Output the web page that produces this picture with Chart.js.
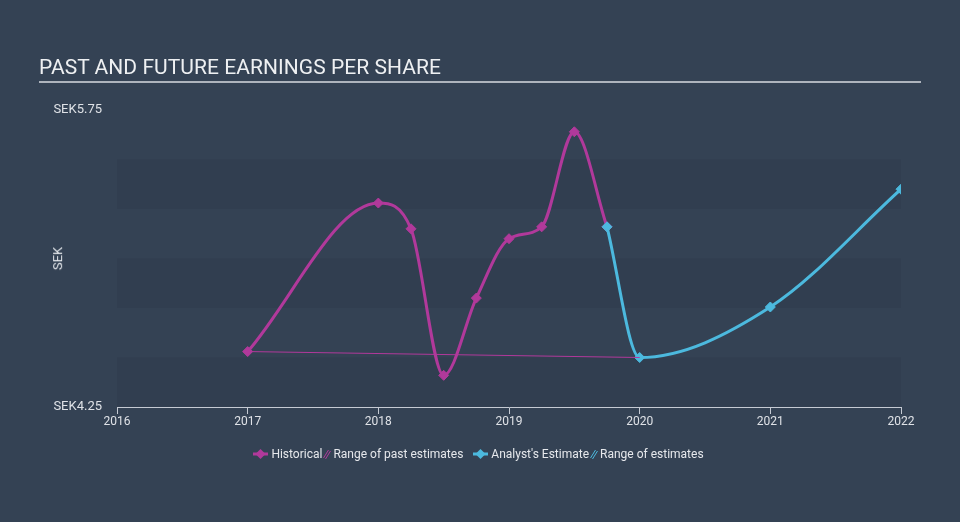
<!DOCTYPE html>
<html>
<head>
<meta charset="utf-8">
<script src="https://cdn.jsdelivr.net/npm/chart.js@4/dist/chart.umd.min.js"></script>
<style>
  body { margin: 0; background: #344254; font-family: Roboto, sans-serif; }
  #wrap { position: relative; width: 960px; height: 522px; overflow: hidden; }
  #chart { position: absolute; left: 0; top: 0; }
  .title { position: absolute; left: 39px; top: 55px; font-size: 21px; color: #eef0f2; letter-spacing: 0.05px; }
  .rule { position: absolute; left: 39px; top: 81px; width: 882px; height: 2px; background: #aeb4bd; }
  .ytitle { position: absolute; left: 46px; top: 251px; font-size: 13px; color: #e4e7eb; transform: rotate(-90deg); }
  .legend { position: absolute; left: 0; width: 956px; top: 446px; text-align: center; font-size: 12px; color: #e6e8ec; }
  .legend span { vertical-align: middle; margin-left: 2px; }
  .legend svg { vertical-align: middle; }
  .legend svg.h { margin-left: 1px; }
</style>
</head>
<body>
<div id="wrap">
  <canvas id="chart" width="960" height="522"></canvas>
  <div class="title">PAST AND FUTURE EARNINGS PER SHARE</div>
  <div class="rule"></div>
  <div class="ytitle">SEK</div>
  <div class="legend" id="legend"></div>
</div>
<script>
const histYears = [2017, 2018, 2018.25, 2018.5, 2018.75, 2019, 2019.25, 2019.5, 2019.75]
const histEps = [4.53, 5.28, 5.15, 4.41, 4.80, 5.10, 5.16, 5.64, 5.16]

const estYears = [2019.75, 2020, 2021, 2022]
const estEps = [5.16, 4.50, 4.755, 5.35]

const pastRangeYears = [2017, 2020]
const pastRangeEps = [4.53, 4.50]

const xTicks = [2016, 2017, 2018, 2019, 2020, 2021, 2022]
const yTicks = [4.25, 5.75]
const bands = [[4.25, 4.5], [4.75, 5.0], [5.25, 5.5]]

const magenta = '#b1399b'
const cyan = '#4cb9de'

function toPoints(xs, ys) {
    return xs.map((x, i) => ({ x: x, y: ys[i] }))
}

const bandPlugin = {
    id: 'bands',
    beforeDatasetsDraw(chart) {
        const ctx = chart.ctx
        const area = chart.chartArea
        const y = chart.scales.y
        ctx.save()
        ctx.fillStyle = 'rgba(30,40,52,0.13)'
        bands.forEach(b => {
            const top = y.getPixelForValue(b[1])
            const bottom = y.getPixelForValue(b[0])
            ctx.fillRect(area.left, top, area.right - area.left, bottom - top)
        })
        ctx.restore()
    }
}

const ctx = document.getElementById('chart').getContext('2d')
const chart = new Chart(ctx, {
    type: 'line',
    data: {
        datasets: [
            {
                label: 'Range of past estimates',
                data: toPoints(pastRangeYears, pastRangeEps),
                borderColor: magenta,
                borderWidth: 1,
                pointRadius: 0,
                tension: 0
            },
            {
                label: "Analyst's Estimate",
                data: toPoints(estYears, estEps),
                borderColor: cyan,
                backgroundColor: cyan,
                borderWidth: 3,
                pointStyle: 'rectRot',
                pointRadius: 5,
                pointBorderWidth: 1,
                cubicInterpolationMode: 'monotone'
            },
            {
                label: 'Historical',
                data: toPoints(histYears, histEps),
                borderColor: magenta,
                backgroundColor: magenta,
                borderWidth: 3,
                pointStyle: 'rectRot',
                pointRadius: 5,
                pointBorderWidth: 1,
                cubicInterpolationMode: 'monotone'
            }
        ]
    },
    options: {
        responsive: false,
        animation: false,
        layout: { padding: { left: 0, top: 110, right: 59, bottom: 0 } },
        plugins: { legend: { display: false }, tooltip: { enabled: false } },
        scales: {
            x: {
                type: 'linear',
                min: 2016,
                max: 2022,
                afterBuildTicks: s => { s.ticks = xTicks.map(v => ({ value: v })) },
                afterFit: s => { s.height = 115 },
                grid: { drawOnChartArea: false, drawTicks: true, tickLength: 7, color: '#c5cad3' },
                border: { display: true, color: '#c5cad3' },
                ticks: {
                    color: '#dfe2e7',
                    font: { family: 'Roboto', size: 12 },
                    padding: 1,
                    callback: v => String(v)
                }
            },
            y: {
                min: 4.25,
                max: 5.75,
                afterBuildTicks: s => { s.ticks = yTicks.map(v => ({ value: v })) },
                afterFit: s => { s.width = 117 },
                grid: { display: false, drawTicks: false },
                border: { display: false },
                ticks: {
                    color: '#dfe2e7',
                    font: { family: 'Roboto', size: 13 },
                    padding: 15,
                    callback: v => 'SEK' + v.toFixed(2)
                }
            }
        }
    },
    plugins: [bandPlugin]
})

// legende
function lineIcon(color) {
    return '<svg width="17" height="12"><line x1="1" y1="6" x2="16" y2="6" stroke="' + color + '" stroke-width="3"/>' +
        '<polygon points="8.5,1 13.5,6 8.5,11 3.5,6" fill="' + color + '"/></svg>'
}
function hatchIcon(color) {
    return '<svg class="h" width="8" height="12"><line x1="0.5" y1="10" x2="5.5" y2="2" stroke="' + color + '" stroke-width="1"/>' +
        '<line x1="2.5" y1="11" x2="7.5" y2="3" stroke="' + color + '" stroke-width="1"/></svg>'
}
const legendItems = [
    [lineIcon(magenta), 'Historical', hatchIcon(magenta), 'Range of past estimates'],
    [lineIcon(cyan), "Analyst's Estimate", hatchIcon(cyan), 'Range of estimates']
]
document.getElementById('legend').innerHTML = legendItems.map(it =>
    it[0] + '<span>' + it[1] + '</span>' + it[2] + '<span>' + it[3] + '</span>'
).join('<span style="display:inline-block;width:7px"></span>')
</script>
</body>
</html>
